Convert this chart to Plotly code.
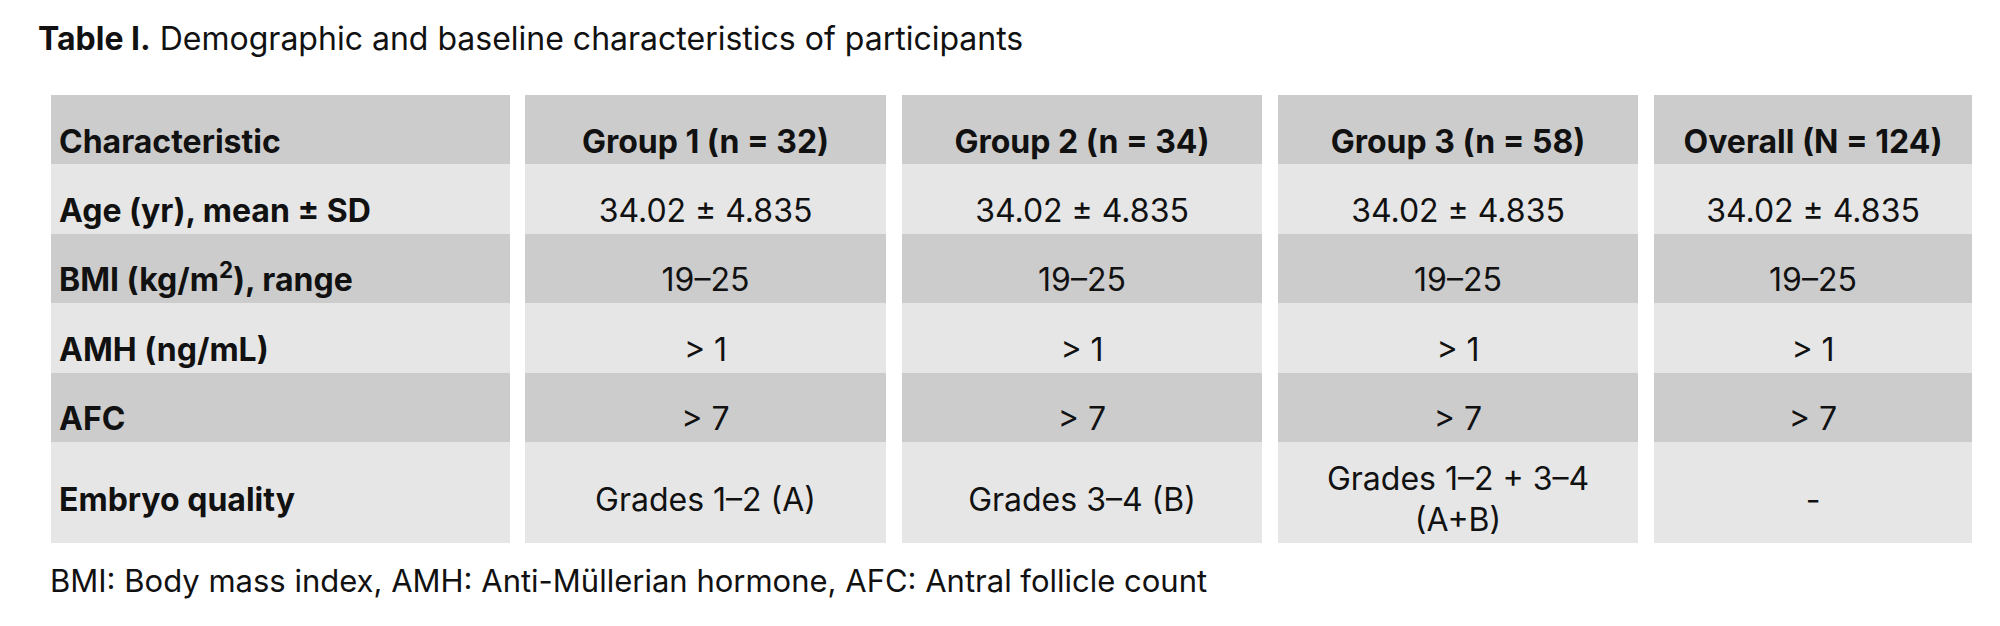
import plotly.graph_objects as go

# table content
header = ["Characteristic", "Group 1 (n = 32)", "Group 2 (n = 34)", "Group 3 (n = 58)", "Overall (N = 124)"]
characteristic = ["Age (yr), mean ± SD", "BMI (kg/m<sup>2</sup>), range", "AMH (ng/mL)", "AFC", "Embryo quality"]
group1 = ["34.02 ± 4.835", "19–25", "> 1", "> 7", "Grades 1–2 (A)"]
group2 = ["34.02 ± 4.835", "19–25", "> 1", "> 7", "Grades 3–4 (B)"]
group3 = ["34.02 ± 4.835", "19–25", "> 1", "> 7", "Grades 1–2 + 3–4<br>(A+B)"]
overall = ["34.02 ± 4.835", "19–25", "> 1", "> 7", "-"]

title = "<b>Table I.</b> Demographic and baseline characteristics of participants"
footnote = "BMI: Body mass index, AMH: Anti-Müllerian hormone, AFC: Antral follicle count"

# layout of the grid, in page pixels
W, H = 2000, 626
PAGE = 8  # default body margin of the html page
col_left = [51, 525, 902, 1278, 1654]
col_right = [510, 886, 1262, 1638, 1972]
row_edges = [95, 164, 233.5, 303, 372.5, 442, 543]
text_shift = [15, 15, 15, 15, 15, 10]
dark, light = "#cccccc", "#e6e6e6"
row_colors = [dark, light, dark, light, dark, light]
FONT = "Inter"
SIZE = 32

columns = [characteristic, group1, group2, group3, overall]
tops = row_edges[:-1]
heights = [b - t for t, b in zip(row_edges[:-1], row_edges[1:])]
text_y = [t + h / 2 + s for t, h, s in zip(tops, heights, text_shift)]

fig = go.Figure()

for j, col in enumerate(columns):
    cx = (col_left[j] + col_right[j]) / 2
    cw = col_right[j] - col_left[j]
    fig.add_trace(go.Bar(
        x=[cx] * len(tops), y=heights, base=tops, width=[cw] * len(tops),
        marker=dict(color=row_colors, line=dict(width=0)),
        hoverinfo="skip", showlegend=False,
    ))

for j, col in enumerate(columns):
    cells = ["<b>" + header[j] + "</b>"]
    if j == 0:
        cells += ["<b>" + c + "</b>" for c in col]
        xs = [col_left[0] + 8] * len(cells)
        pos = "middle right"
    else:
        cells += col
        xs = [(col_left[j] + col_right[j]) / 2] * len(cells)
        pos = "middle center"
    fig.add_trace(go.Scatter(
        x=xs, y=text_y, text=cells, mode="text", textposition=pos,
        textfont=dict(family=FONT, size=SIZE, color="#111111"),
        hoverinfo="skip", showlegend=False,
    ))

fig.add_annotation(
    x=48, y=580, xref="x", yref="y", text=footnote, showarrow=False,
    xanchor="left", yanchor="middle",
    font=dict(family=FONT, size=31, color="#111111"),
)

fig.update_layout(
    width=W, height=H,
    margin=dict(l=0, r=0, t=0, b=0),
    paper_bgcolor="white", plot_bgcolor="white",
    barmode="overlay", bargap=0,
    title=dict(text=title, x=(40 - PAGE - 2) / W, xanchor="left",
               y=1 - (38.5 - PAGE) / H, yanchor="middle",
               font=dict(family=FONT, size=32, color="#111111")),
    xaxis=dict(range=[PAGE, W + PAGE], visible=False, fixedrange=True),
    yaxis=dict(range=[H + PAGE, PAGE], visible=False, fixedrange=True),
)

fig.write_html("out.html")
